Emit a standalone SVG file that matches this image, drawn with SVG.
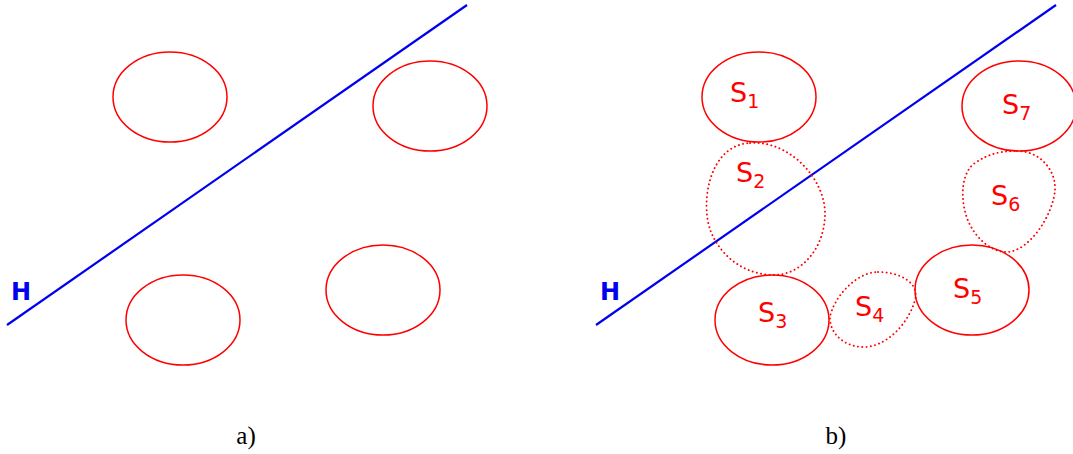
<svg xmlns="http://www.w3.org/2000/svg" width="1073" height="454" viewBox="0 0 1073 454">
<style>
.set{fill:none;stroke:#ff0000;stroke-width:1.5}
.dot{fill:none;stroke:#ff0000;stroke-width:1.9;stroke-dasharray:0.1 4.2;stroke-linecap:round}
.hyp{stroke:#0000ee;stroke-width:2.2;fill:none}
.lbl{font-family:"DejaVu Sans",sans-serif;font-size:27px;fill:#ff0000}
.sub{font-size:19px}
.h{font-family:"DejaVu Sans",sans-serif;font-size:24px;font-weight:bold;fill:#0000ee}
.cap{font-family:"Liberation Serif",serif;font-size:25px;fill:#000;text-anchor:middle}
</style>
<g id="connectors">
<line class="hyp" x1="7" y1="325" x2="467" y2="5"/>
<line class="hyp" x1="596" y1="325" x2="1056" y2="5"/>
</g>
<g id="panel-a">
<g id="a-e1"><ellipse class="set" cx="170" cy="97" rx="57" ry="45"/></g>
<g id="a-e2"><ellipse class="set" cx="430" cy="106" rx="57" ry="45"/></g>
<g id="a-e3"><ellipse class="set" cx="183" cy="320" rx="57" ry="45"/></g>
<g id="a-e4"><ellipse class="set" cx="383" cy="290" rx="57" ry="45"/></g>
<g id="a-H"><text class="h" x="11" y="300">H</text></g>
<g id="a-cap"><text class="cap" x="246" y="444">a)</text></g>
</g>
<g id="panel-b">
<g id="S1"><ellipse class="set" cx="759" cy="97" rx="57" ry="45"/><text class="lbl" x="730" y="102">S<tspan class="sub" dy="6">1</tspan></text></g>
<g id="S2"><path class="dot" d="M 750 143 C 790 140, 826 180, 825 215 C 824 250, 800 276, 772 275 C 745 274, 722 258, 711 232 C 700 205, 708 145, 750 143 Z"/><text class="lbl" x="736" y="182">S<tspan class="sub" dy="6">2</tspan></text></g>
<g id="S3"><ellipse class="set" cx="772" cy="320" rx="57" ry="45"/><text class="lbl" x="758" y="322">S<tspan class="sub" dy="6">3</tspan></text></g>
<g id="S4"><path class="dot" d="M 878 272 C 900 272, 920 283, 915 300 C 908 325, 885 348, 862 347 C 842 346, 830 332, 830 318 C 832 300, 855 272, 878 272 Z"/><text class="lbl" x="855" y="316">S<tspan class="sub" dy="6">4</tspan></text></g>
<g id="S5"><ellipse class="set" cx="972" cy="290" rx="57" ry="45"/><text class="lbl" x="953" y="298">S<tspan class="sub" dy="6">5</tspan></text></g>
<g id="S6"><path class="dot" d="M 1017 151 C 1040 151, 1056 170, 1055 190 C 1053 215, 1030 250, 1008 252 C 990 253, 972 235, 966 215 C 960 195, 962 172, 975 163 C 988 154, 1000 151, 1017 151 Z"/><text class="lbl" x="991" y="205">S<tspan class="sub" dy="6">6</tspan></text></g>
<g id="S7"><ellipse class="set" cx="1019" cy="106" rx="57" ry="45"/><text class="lbl" x="1002" y="114">S<tspan class="sub" dy="6">7</tspan></text></g>
<g id="b-H"><text class="h" x="600" y="300">H</text></g>
<g id="b-cap"><text class="cap" x="836" y="444">b)</text></g>
</g>
</svg>
